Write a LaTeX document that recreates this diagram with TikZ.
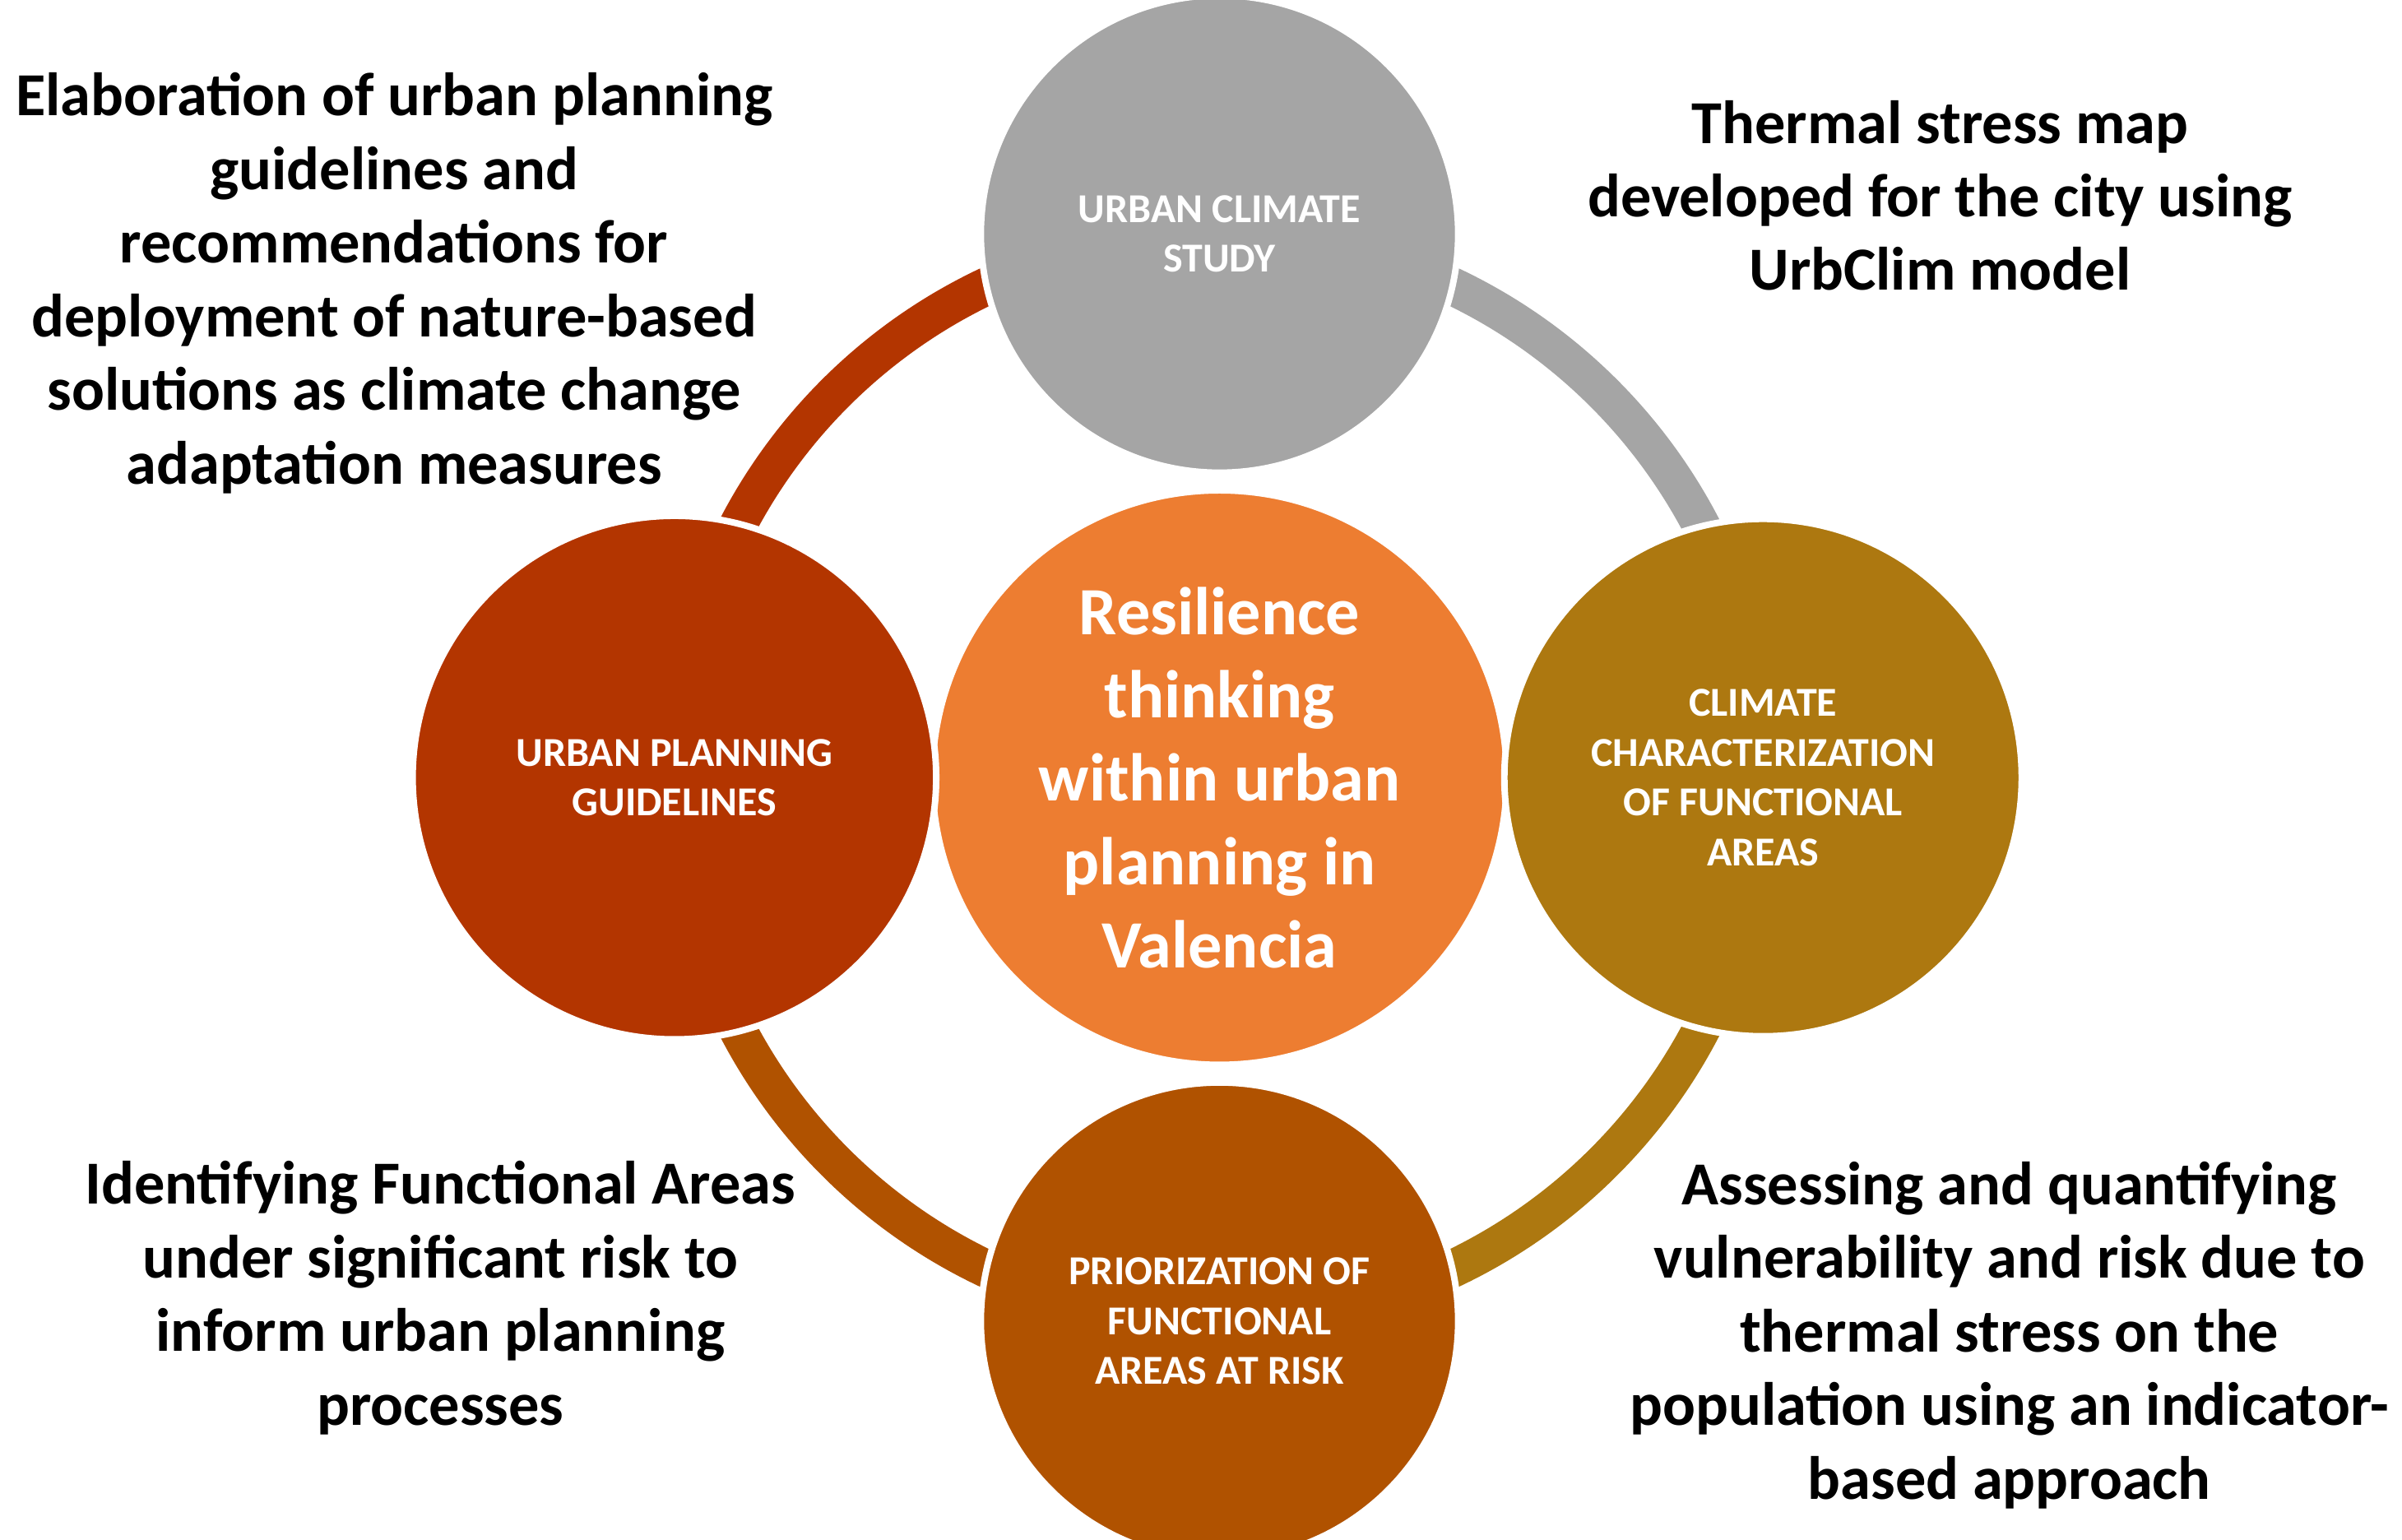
\documentclass[tikz,border=0pt]{standalone}
\usepackage{fontspec}
\setmainfont{Carlito}
\usetikzlibrary{positioning}
\definecolor{ucgray}{HTML}{A5A5A5}
\definecolor{upred}{HTML}{B33500}
\definecolor{ccgold}{HTML}{AD7810}
\definecolor{prbrown}{HTML}{B05200}
\definecolor{rcorange}{HTML}{ED7D31}
\begin{document}
\begin{tikzpicture}[
    stage/.style = {circle, draw=white, line width=1.2pt, text=white, align=center,
                    font=\fontsize{7.6}{9.2}\selectfont\bfseries},
    note/.style  = {align=center, font=\fontsize{11.3}{13.6}\selectfont\bfseries},
    ring/.style  = {line width=7pt}]
    \useasboundingbox (0,0) rectangle (15.6,10);
    \coordinate (c) at (7.92,4.95);
    % ring segments
    \draw[ring, ucgray]   ([shift={(0:3.53)}]c) arc (0:90:3.53);
    \draw[ring, upred]    ([shift={(90:3.53)}]c) arc (90:180:3.53);
    \draw[ring, prbrown]  ([shift={(180:3.53)}]c) arc (180:270:3.53);
    \draw[ring, ccgold]   ([shift={(270:3.53)}]c) arc (270:360:3.53);
    % stages
    \node[stage, fill=rcorange, minimum size=3.32cm, font=\fontsize{12.5}{15.4}\selectfont\bfseries]
        (core) at (c) {Resilience\\thinking\\within urban\\planning in\\Valencia};
    \node[stage, fill=ucgray, minimum size=3.1cm] (study) at (7.92,8.48) {URBAN CLIMATE\\STUDY};
    \node[stage, fill=upred, minimum size=3.4cm] (guide) at (4.38,4.95) {URBAN PLANNING\\GUIDELINES};
    \node[stage, fill=ccgold, minimum size=3.36cm] (charac) at (11.45,4.95) {CLIMATE\\CHARACTERIZATION\\OF FUNCTIONAL\\AREAS};
    \node[stage, fill=prbrown, minimum size=3.1cm] (prior) at (7.92,1.42) {PRIORIZATION OF\\FUNCTIONAL\\AREAS AT RISK};
    % notes
    \node[note] (n1) at (2.56,8.16) {Elaboration of urban planning\\guidelines and\\recommendations for\\deployment of nature-based\\solutions as climate change\\adaptation measures};
    \node[note] (n2) at (12.6,8.73) {Thermal stress map\\developed for the city using\\UrbClim model};
    \node[note] (n3) at (2.86,1.57) {Identifying Functional Areas\\under significant risk to\\inform urban planning\\processes};
    \node[note] (n4) at (13.05,1.33) {Assessing and quantifying\\vulnerability and risk due to\\thermal stress on the\\population using an indicator-\\based approach};
\end{tikzpicture}
\end{document}
